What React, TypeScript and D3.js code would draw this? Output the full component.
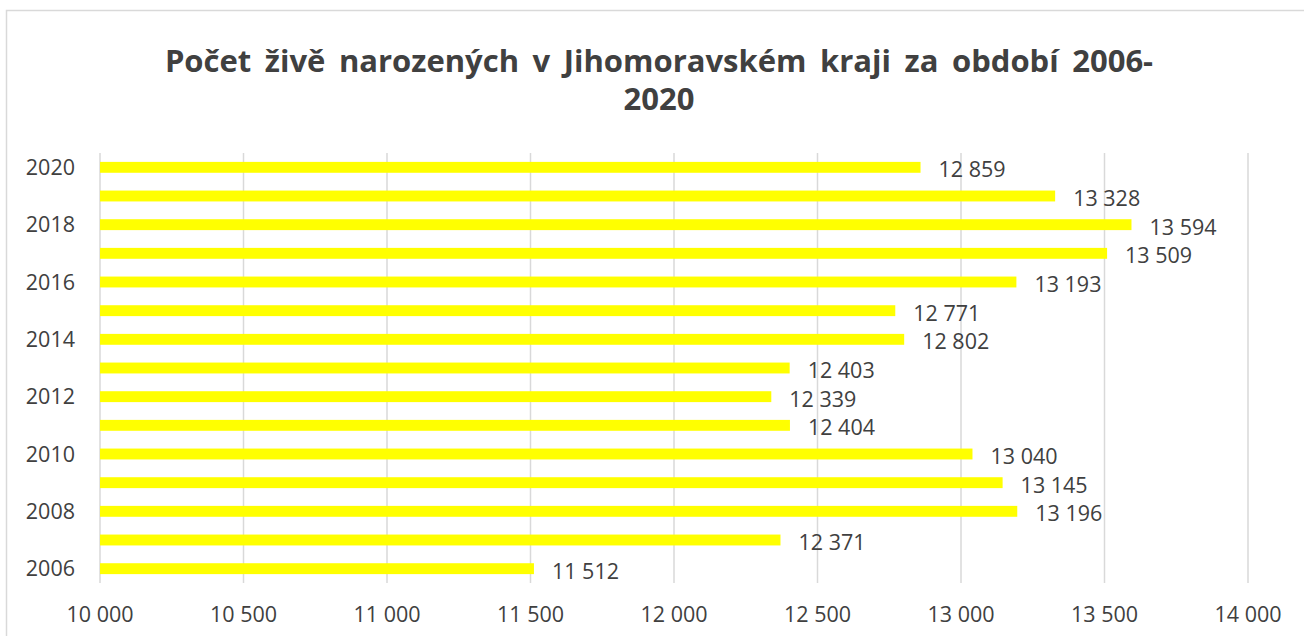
import React from "react";
import * as d3 from "d3";

const years = ["2006","2007","2008","2009","2010","2011","2012","2013","2014","2015","2016","2017","2018","2019","2020"];
const births = [11512, 12371, 13196, 13145, 13040, 12404, 12339, 12403, 12802, 12771, 13193, 13509, 13594, 13328, 12859];
const xTicks = [10000, 10500, 11000, 11500, 12000, 12500, 13000, 13500, 14000];
const yTickLabels = ["2006","2008","2010","2012","2014","2016","2018","2020"];
const titleLines = ["Počet živě narozených v Jihomoravském kraji za období 2006-", "2020"];

const W = 1304, H = 636;
const FONT = "'Open Sans', 'Noto Sans', sans-serif";
const TXT = "#404040";

const fmt = (v: number) => {
  const s = String(v);
  return s.replace(/\B(?=(\d{3})+(?!\d))/g, " ");
};

export default function App() {
  const x = d3.scaleLinear().domain([10000, 14000]).range([100, 1248]);
  const y = d3.scaleBand().domain([...years].reverse()).range([153, 583]).paddingInner(0.62).paddingOuter(0.31);
  const bw = y.bandwidth();
  return (
    <div style={{ position: "fixed", left: 0, top: 0 }}>
      <svg width={W} height={H} style={{ display: "block", background: "#fff" }}>
        <rect x={6.5} y={10.5} width={1320} height={660} fill="#fff" stroke="#d9d9d9" strokeWidth={1.5} />
        {titleLines.map((t, i) => (
          <text key={i} x={659} y={72 + i * 38} textAnchor="middle" fontFamily={FONT} fontWeight={700}
            fontSize={31} fill={TXT} style={{ wordSpacing: "5.5px" }}>{t}</text>
        ))}
        {xTicks.map((t) => (
          <g key={t}>
            <line x1={x(t)} x2={x(t)} y1={153} y2={583} stroke="#d9d9d9" strokeWidth={1.5} />
            <text x={x(t)} y={622} textAnchor="middle" fontFamily={FONT} fontSize={21.5} fill={TXT}>{fmt(t)}</text>
          </g>
        ))}
        {years.map((yr, i) => (
          <g key={yr}>
            <rect x={x(10000)} y={y(yr)!} width={x(births[i]) - x(10000)} height={bw} fill="#ffff00" />
            <text x={x(births[i]) + 18} y={y(yr)! + bw / 2 + 10} fontFamily={FONT} fontSize={21.5} fill={TXT}>{fmt(births[i])}</text>
          </g>
        ))}
        {yTickLabels.map((yr) => (
          <text key={yr} x={75} y={y(yr)! + bw / 2 + 7.5} textAnchor="end" fontFamily={FONT} fontSize={21.5} fill={TXT}>{yr}</text>
        ))}
      </svg>
    </div>
  );
}
